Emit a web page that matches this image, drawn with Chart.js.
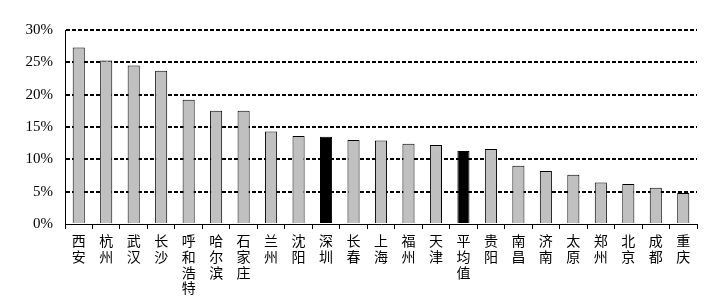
<!DOCTYPE html>
<html><head><meta charset="utf-8">
<script src="https://cdn.jsdelivr.net/npm/chart.js@4"></script>
<style>html,body{margin:0;padding:0;background:#fff}#w{width:714px;height:304px}</style>
</head><body><div id="w"><canvas id="c"></canvas></div>
<script>
const categories = ["西安","杭州","武汉","长沙","呼和浩特","哈尔滨","石家庄","兰州","沈阳","深圳","长春","上海","福州","天津","平均值","贵阳","南昌","济南","太原","郑州","北京","成都","重庆"];
const values = [27.3,25.3,24.5,23.7,19.2,17.5,17.5,14.3,13.6,13.5,13.0,12.9,12.4,12.2,11.3,11.6,9.0,8.2,7.6,6.4,6.2,5.6,4.8];
const highlighted = ["深圳","平均值"];
const yTicks = [0,5,10,15,20,25,30];

const colors = categories.map(c => highlighted.includes(c) ? "#000000" : "#C0C0C0");
new Chart(document.getElementById("c"), {
  type: "bar",
  data: {
    labels: categories.map(c => Array.from(c)),
    datasets: [{ data: values, backgroundColor: colors, borderColor: "#000", borderWidth: 1,
      categoryPercentage: 1, barPercentage: 0.44 }]
  },
  options: {
    responsive: true, maintainAspectRatio: false, animation: false,
    layout: { padding: { left: 0, right: 17, top: 30, bottom: 0 } },
    plugins: { legend: { display: false }, tooltip: { enabled: false } },
    scales: {
      x: {
        offset: true,
        grid: { display: true, drawOnChartArea: false, drawTicks: true, tickLength: 5, color: "#000", offset: true },
        border: { display: true, color: "#000", width: 1 },
        ticks: { maxRotation: 0, minRotation: 0, autoSkip: false, padding: 4, color: "#000",
          font: { family: "'Noto Sans CJK SC'", size: 14, lineHeight: 1.12 } },
        afterFit: s => { s.height = 80; }
      },
      y: {
        min: 0, max: 30,
        afterBuildTicks: s => { s.ticks = yTicks.map(v => ({ value: v })); },
        grid: { drawTicks: false, color: ctx => ctx.tick && ctx.tick.value === 0 ? "rgba(0,0,0,0)" : "#000", lineWidth: 2 },
        border: { display: true, color: "#000", width: 1, dash: [4, 2] },
        ticks: { padding: 12, color: "#000", callback: v => v + "%",
          font: { family: "'Liberation Serif'", size: 15 } },
        afterFit: s => { s.width = 65; }
      }
    }
  }
});
</script></body></html>
